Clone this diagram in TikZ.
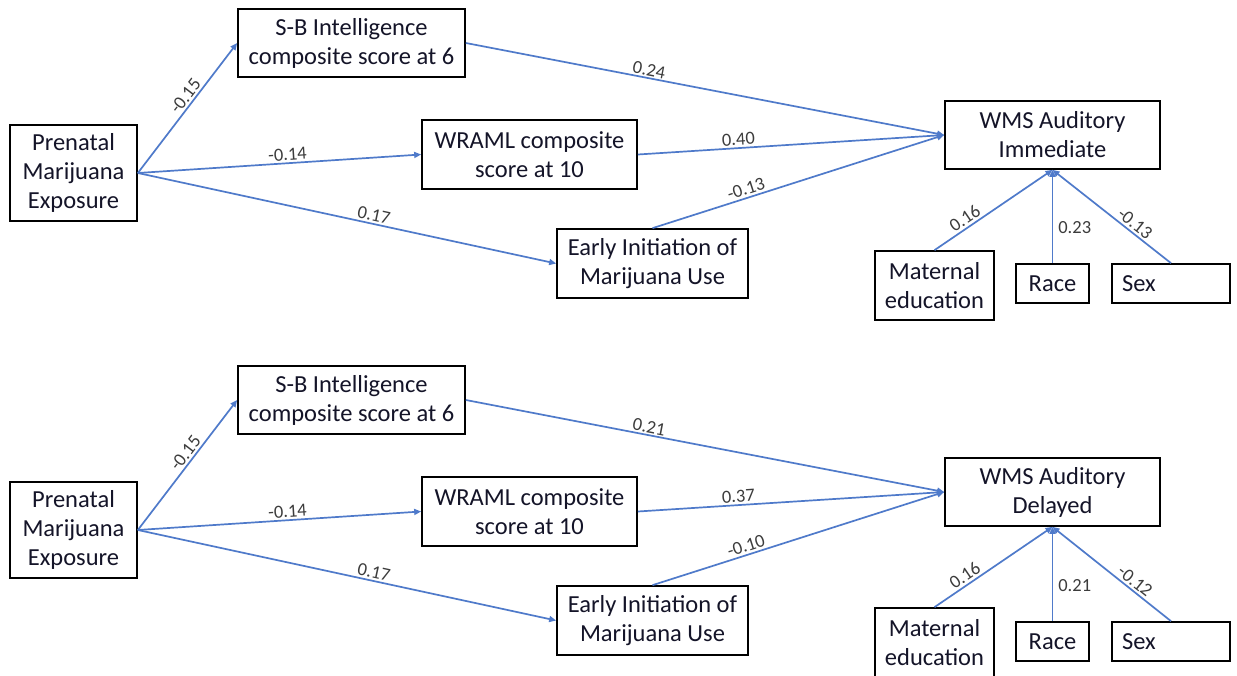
\documentclass[tikz,border=0pt]{standalone}
\usepackage{fontspec}
\setmainfont{Carlito}
\usetikzlibrary{arrows.meta}
\definecolor{linkblue}{RGB}{79,122,202}
\definecolor{labgray}{RGB}{60,60,60}
\definecolor{boxtext}{RGB}{20,20,40}
\tikzset{
  box/.style={draw=black, line width=1.7pt, inner sep=0pt, align=center, text=boxtext,
    font=\fontsize{24.5}{29}\selectfont},
  conn/.style={draw=linkblue, line width=1.7pt, -{Triangle[length=7pt,width=6pt]}},
  lab/.style={font=\fontsize{18.5}{21}\selectfont, text=labgray, inner sep=2pt},
}
\begin{document}
\begin{tikzpicture}[x=1pt,y=-1pt]
\clip (0,0) rectangle (1237,675);
\fill[white] (0,0) rectangle (1237,675);
% ---------- top panel ----------
\node[box, minimum width=127pt, minimum height=96pt] (pre1) at (73.5,173) {Prenatal\\Marijuana\\Exposure};
\node[box, minimum width=227pt, minimum height=68pt] (sb1) at (351.5,43) {S-B Intelligence\\composite score at 6};
\node[box, minimum width=215pt, minimum height=69pt] (wr1) at (529.5,154.5) {WRAML composite\\score at 10};
\node[box, minimum width=191pt, minimum height=69pt] (ea1) at (652.5,263.5) {Early Initiation of\\Marijuana Use};
\node[box, minimum width=215pt, minimum height=68pt] (wms1) at (1052.5,135) {WMS Auditory\\Immediate};
\node[box, minimum width=119pt, minimum height=69pt] (mat1) at (934.5,285.5) {Maternal\\education};
\node[box, minimum width=73pt, minimum height=39pt] (race1) at (1052.5,283.5) {Race};
\node[box, minimum width=118pt, minimum height=39pt, text width=98pt, align=left] (sex1) at (1171,283.5) {Sex};

\draw[conn] (pre1.east) -- node[lab, sloped, above, pos=0.55] {-0.15} (sb1.west);
\draw[conn] (pre1.east) -- node[lab, sloped, above, pos=0.53] {-0.14} (wr1.west);
\draw[conn] (pre1.east) -- node[lab, sloped, above, pos=0.56] {0.17} (ea1.west);
\draw[conn] (sb1.east) -- node[lab, sloped, above, pos=0.38, inner sep=1pt] {0.24} (wms1.west);
\draw[conn] (wr1.east) -- node[lab, sloped, above, pos=0.33] {0.40} (wms1.west);
\draw[conn] (ea1.north) -- node[lab, sloped, above, pos=0.33] {-0.13} (wms1.west);
\draw[conn] (mat1.north) -- node[lab, sloped, above, pos=0.3] {0.16} (wms1.south);
\draw[conn] (race1.north) -- node[lab, right, pos=0.38, inner sep=5pt] {0.23} (wms1.south);
\draw[conn] (sex1.north) -- node[lab, sloped, above, pos=0.35] {-0.13} (wms1.south);

% ---------- bottom panel ----------
\node[box, minimum width=127pt, minimum height=96pt] (pre2) at (73.5,530) {Prenatal\\Marijuana\\Exposure};
\node[box, minimum width=227pt, minimum height=68pt] (sb2) at (351.5,400) {S-B Intelligence\\composite score at 6};
\node[box, minimum width=215pt, minimum height=69pt] (wr2) at (529.5,511.5) {WRAML composite\\score at 10};
\node[box, minimum width=191pt, minimum height=69pt] (ea2) at (652.5,620.5) {Early Initiation of\\Marijuana Use};
\node[box, minimum width=215pt, minimum height=68pt] (wms2) at (1052.5,492) {WMS Auditory\\Delayed};
\node[box, minimum width=119pt, minimum height=69pt] (mat2) at (934.5,642.5) {Maternal\\education};
\node[box, minimum width=73pt, minimum height=39pt] (race2) at (1052.5,641.5) {Race};
\node[box, minimum width=118pt, minimum height=39pt, text width=98pt, align=left] (sex2) at (1171,641.5) {Sex};

\draw[conn] (pre2.east) -- node[lab, sloped, above, pos=0.55] {-0.15} (sb2.west);
\draw[conn] (pre2.east) -- node[lab, sloped, above, pos=0.53] {-0.14} (wr2.west);
\draw[conn] (pre2.east) -- node[lab, sloped, above, pos=0.56] {0.17} (ea2.west);
\draw[conn] (sb2.east) -- node[lab, sloped, above, pos=0.38, inner sep=1pt] {0.21} (wms2.west);
\draw[conn] (wr2.east) -- node[lab, sloped, above, pos=0.33] {0.37} (wms2.west);
\draw[conn] (ea2.north) -- node[lab, sloped, above, pos=0.33] {-0.10} (wms2.west);
\draw[conn] (mat2.north) -- node[lab, sloped, above, pos=0.3] {0.16} (wms2.south);
\draw[conn] (race2.north) -- node[lab, right, pos=0.38, inner sep=5pt] {0.21} (wms2.south);
\draw[conn] (sex2.north) -- node[lab, sloped, above, pos=0.35] {-0.12} (wms2.south);
\end{tikzpicture}
\end{document}
